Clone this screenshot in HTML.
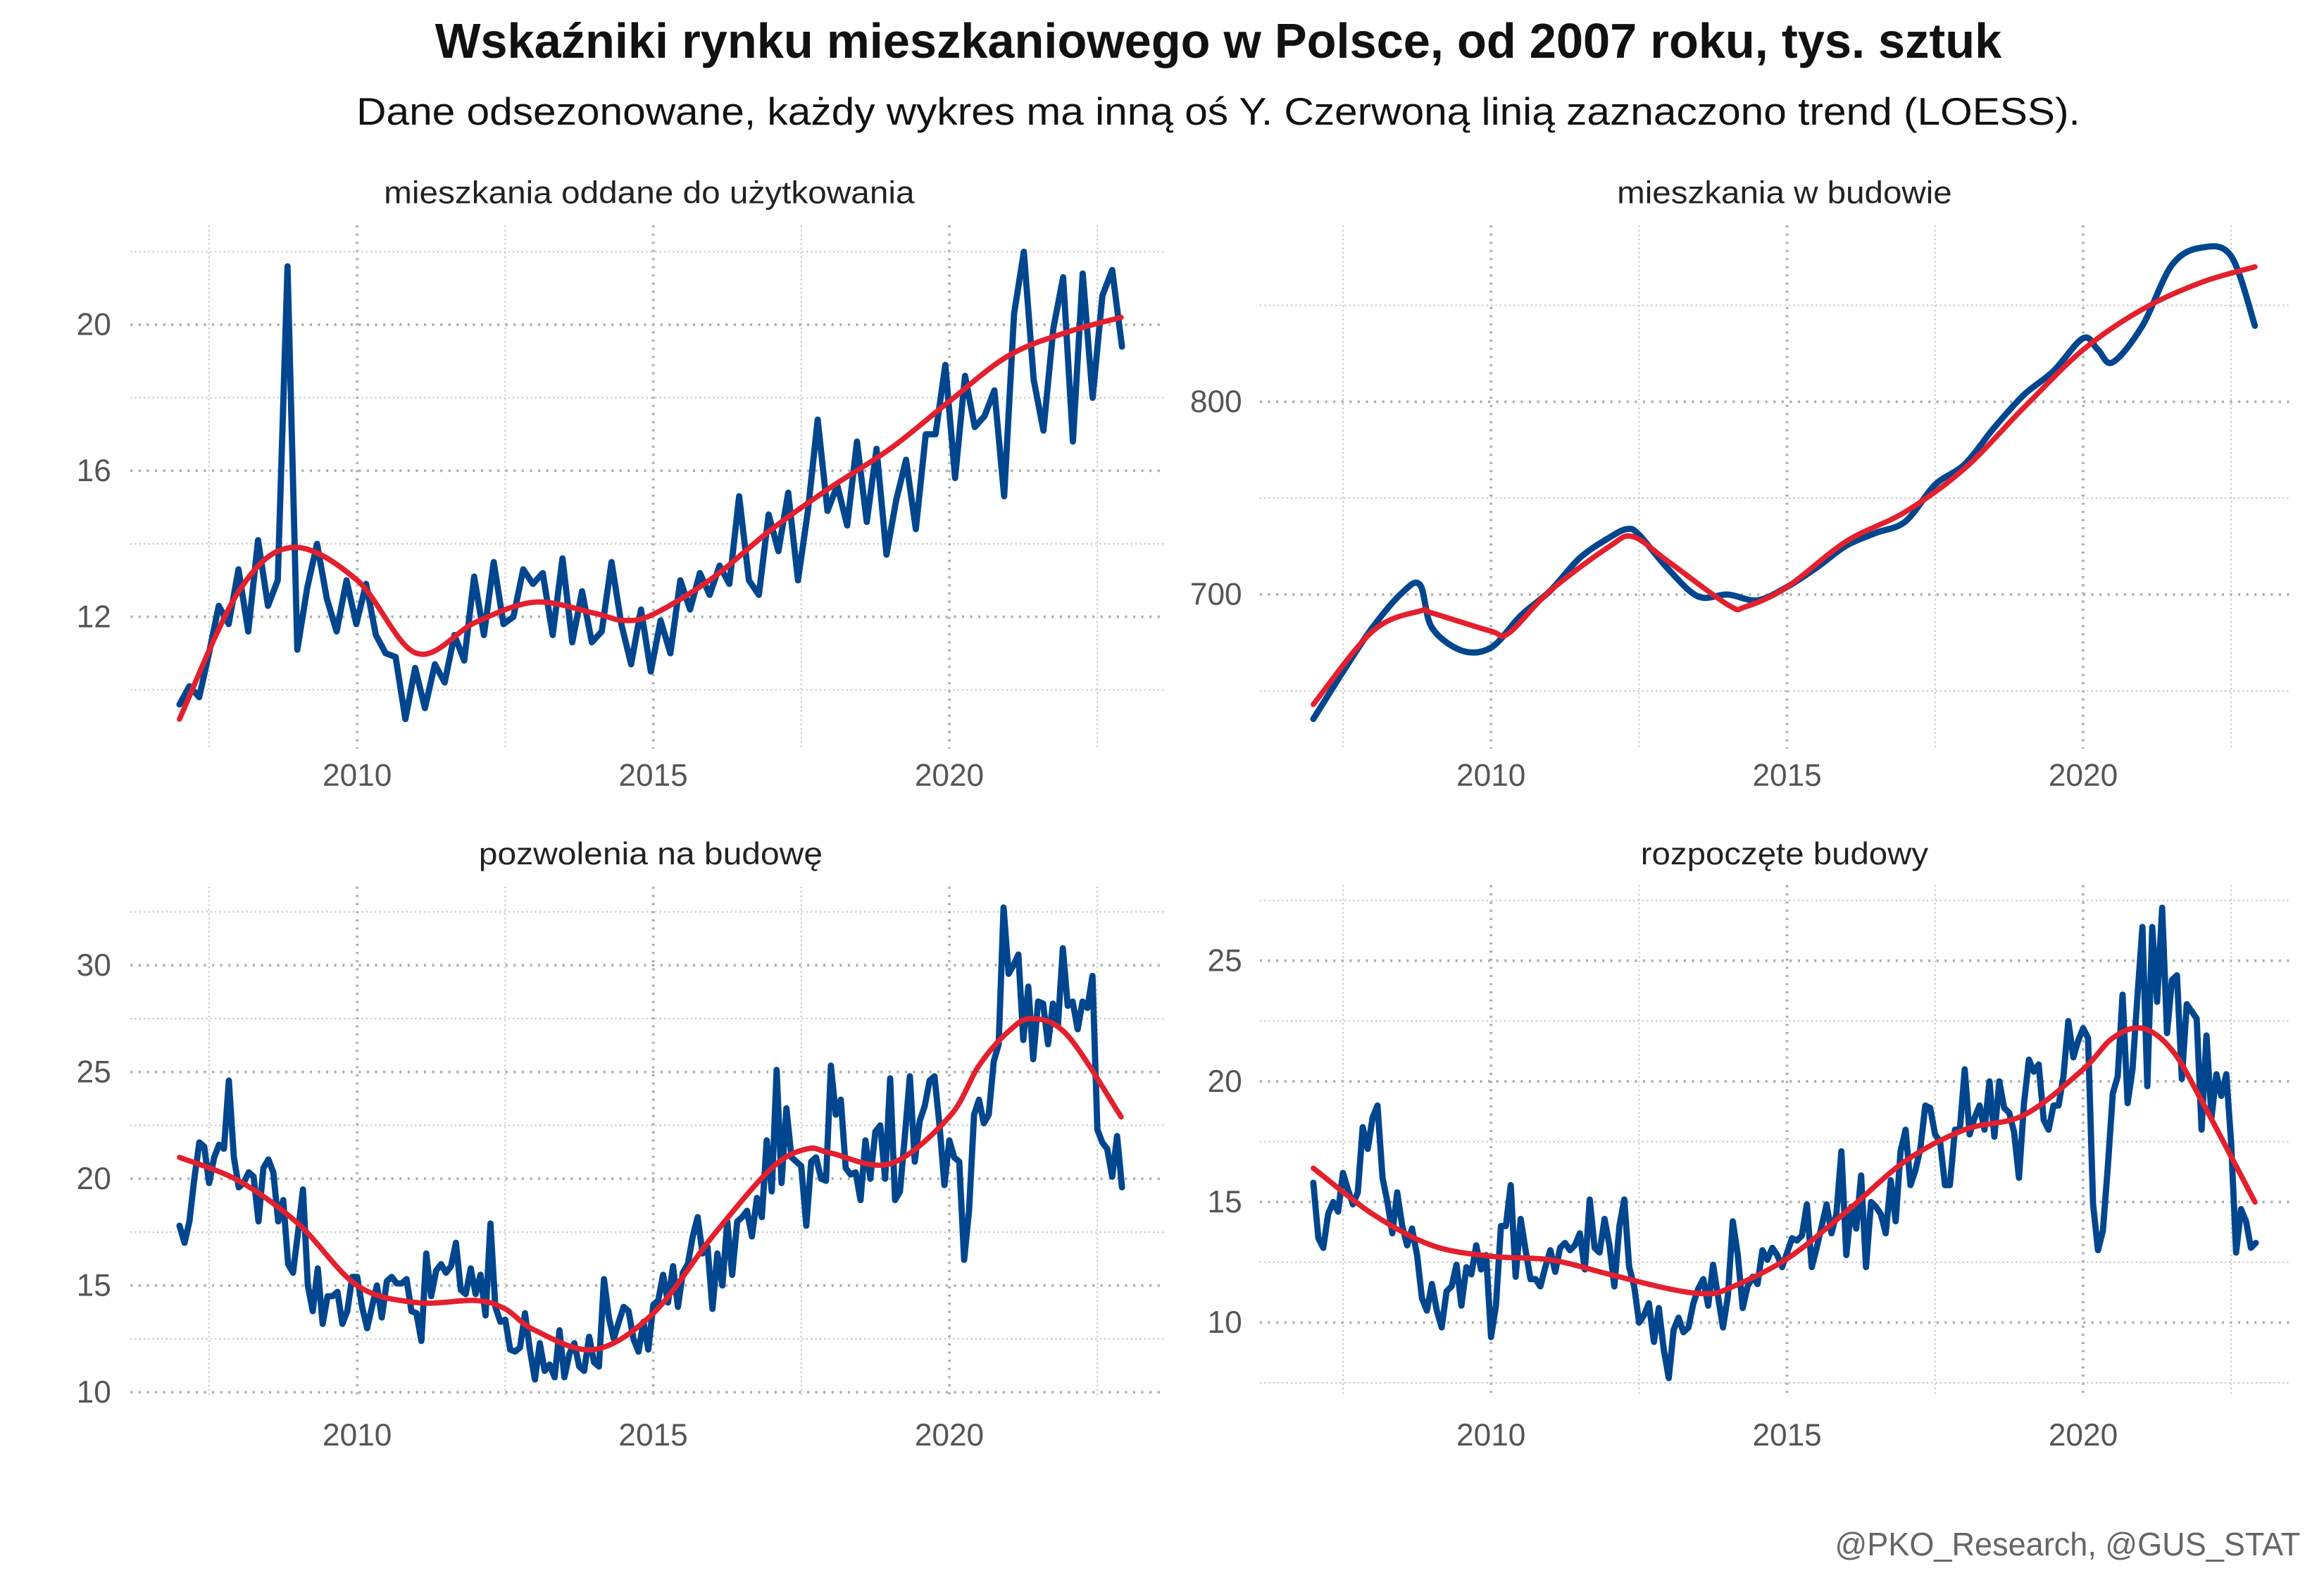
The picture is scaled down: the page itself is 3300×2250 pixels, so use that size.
<!DOCTYPE html>
<html><head><meta charset="utf-8">
<style>
html,body{margin:0;padding:0;background:#fff;}
svg{display:block;}
text{font-family:"Liberation Sans Narrow","Liberation Sans",sans-serif;}
</style></head>
<body>
<svg id="chart" width="3300" height="2250" viewBox="0 0 1568 1069" preserveAspectRatio="none" xmlns="http://www.w3.org/2000/svg">
<rect x="0" y="0" width="1568" height="1069" fill="#fff"/>
<text x="822" y="39" text-anchor="middle" font-size="33" font-weight="bold" fill="#111" textLength="1057" lengthAdjust="spacingAndGlyphs">Wskaźniki rynku mieszkaniowego w Polsce, od 2007 roku, tys. sztuk</text>
<text x="822" y="84" text-anchor="middle" font-size="26" fill="#111" textLength="1163" lengthAdjust="spacingAndGlyphs">Dane odsezonowane, każdy wykres ma inną oś Y. Czerwoną linią zaznaczono trend (LOESS).</text>
<text x="1552" y="1049" text-anchor="end" font-size="22" fill="#666" textLength="314" lengthAdjust="spacingAndGlyphs">@PKO_Research,  @GUS_STAT</text>
<g id="panels"></g>
</svg>
<script>
// ---- data ----
const s1Values=[9.6,10.1,9.8,11.0,12.3,11.8,13.3,11.6,14.1,12.3,13.0,21.6,11.1,12.8,14.0,12.5,11.6,13.0,11.8,12.9,11.5,11.0,10.9,9.2,10.6,9.5,10.7,10.2,11.5,10.8,13.1,11.5,13.5,11.8,12.0,13.3,12.9,13.2,11.5,13.6,11.3,12.7,11.3,11.6,13.5,11.8,10.7,12.2,10.5,11.9,11.0,13.0,12.2,13.2,12.6,13.4,12.9,15.3,13.0,12.6,14.8,13.8,15.4,13.0,14.9,17.4,14.9,15.6,14.5,16.8,14.6,16.6,13.7,15.2,16.3,14.4,17.0,17.0,18.9,15.8,18.6,17.2,17.5,18.2,15.3,20.3,22.0,18.5,17.1,19.9,21.3,16.8,21.4,18.0,20.8,21.5,19.4];
const s1TrendYears=[2007,2008,2008.9,2010,2011,2012,2013,2014,2014.5,2015,2016,2017,2018,2019,2020,2021,2022,2022.9];
const s1Trend=[9.2,12.7,13.9,13.0,11.0,11.85,12.4,12.1,11.9,12.07,13.06,14.4,15.55,16.6,17.9,19.15,19.8,20.2];

const s2Years=[2007,2007.5,2008,2008.5,2008.8,2009,2009.5,2010,2010.5,2011,2011.5,2012,2012.3,2012.5,2013,2013.5,2014,2014.5,2015,2015.5,2016,2016.5,2017,2017.5,2018,2018.5,2019,2019.5,2020,2020.25,2020.5,2021,2021.5,2022,2022.5,2022.9];
const s2Values=[635.5,660,683,701,705,683,671,672.5,689,702,719,729.6,734,731,713,699,700,697,704,714,725.4,732,738,757,767.6,786.7,803.6,816,833,827,820.5,839.5,871,880,875.5,839.5];
const s2TrendYears=[2007,2008,2008.8,2009,2010,2010.3,2011,2012,2012.4,2013,2014,2014.3,2015,2016,2017,2018,2019,2020,2021,2022,2022.9];
const s2Trend=[643,681,691.5,690.5,681,680,702,725,730,717,694.7,693.7,704,727.6,743,765.5,797,827,848,862,870];

const s3Values=[17.8,17.0,18.0,20.0,21.7,21.5,19.8,21.0,21.6,21.4,24.6,21.0,19.6,19.8,20.3,20.1,18.0,20.5,20.9,20.3,18.0,19.0,16.0,15.6,17.5,19.5,15.0,13.8,15.8,13.2,14.5,14.5,14.7,13.2,13.8,15.4,
15.4,14.0,13.0,14.0,15.0,13.5,15.2,15.4,15.1,15.1,15.3,13.8,13.7,12.4,16.5,14.5,15.7,16.0,15.6,15.9,17.0,14.8,14.6,15.8,14.6,15.5,13.6,17.9,14.0,13.3,13.4,12.0,11.9,12.1,13.7,12.0,
10.6,12.3,11.0,11.3,10.7,12.9,10.7,11.8,12.3,11.2,11.0,12.6,11.4,11.2,15.3,13.5,12.5,13.3,14.0,13.8,12.5,11.9,13.3,12.0,14.1,14.3,15.5,14.2,15.9,14.0,15.6,16.0,17.3,18.2,16.5,16.8,
13.9,16.5,15.0,18.0,15.5,18.0,18.2,18.5,17.3,19.1,18.2,21.8,19.4,25.1,19.8,23.3,21.0,20.8,20.6,17.8,20.8,21.0,20.0,19.9,25.3,23.0,23.7,20.5,20.2,20.3,19.0,21.8,20.0,22.2,22.5,20.0,
24.7,19.0,19.4,22.0,24.8,20.8,22.7,23.4,24.6,24.8,22.5,19.7,21.8,21.0,20.8,16.2,18.5,23.0,23.7,22.6,23.0,25.5,26.3,32.7,29.6,30.0,30.5,26.5,29.0,25.6,28.3,28.2,26.3,28.2,27.2,30.8,
28.1,28.3,27.0,28.3,28.0,29.5,22.3,21.7,21.4,20.1,22.0,19.6];
const s3TrendYears=[2007,2008,2009,2010,2011,2012,2012.5,2013,2014,2015,2016,2017,2017.6,2018,2019,2020,2020.5,2021,2021.4,2022,2022.9];
const s3Trend=[21.0,19.9,17.9,15.0,14.2,14.3,13.9,12.9,12.0,13.7,17.3,20.5,21.4,21.2,20.7,22.9,25.3,26.9,27.5,26.7,22.9];

const s4Values=[15.8,13.5,13.1,14.5,15.0,14.6,16.2,15.5,14.9,15.4,18.1,17.2,18.5,19.0,16.0,15.0,13.7,15.4,14.0,13.2,13.9,12.8,11.0,10.5,11.6,10.5,9.8,11.3,11.5,12.4,10.7,12.3,12.0,13.2,12.2,12.8,
9.4,10.7,14.0,14.0,15.7,11.9,14.3,13.0,11.8,11.8,11.5,12.3,13.0,12.1,13.1,13.3,13.0,13.2,13.7,12.2,15.1,13.1,12.9,14.3,13.2,11.5,14.0,15.1,12.3,11.5,10.0,10.3,10.8,9.2,10.6,8.9,
7.7,9.7,10.2,9.6,9.8,10.8,11.4,11.8,10.7,12.4,11.1,9.8,11.1,14.2,12.8,10.6,11.5,11.9,11.6,13.0,12.6,13.1,12.8,12.3,12.9,13.5,13.4,13.6,14.9,12.3,13.1,14.0,14.9,13.7,14.5,17.1,
12.8,14.8,13.9,16.1,12.3,15.0,14.8,14.5,13.7,15.9,14.2,17.1,18.0,15.7,16.3,17.2,19.0,18.9,17.8,17.5,15.7,15.7,18.0,18.0,20.5,17.8,18.5,19.0,18.0,20.0,17.7,20.0,18.9,18.7,17.9,16.0,
19.1,20.9,20.4,20.7,18.4,18.0,19.0,19.0,20.2,22.5,21.0,21.7,22.2,21.8,14.9,13.0,13.8,16.5,19.5,20.2,23.6,19.1,20.5,23.5,26.4,19.8,26.4,23.3,27.2,22.0,24.2,24.4,20.1,23.2,22.9,22.6,
18.0,21.9,18.5,20.3,19.4,20.3,17.4,12.9,14.7,14.2,13.1,13.3];
const s4TrendYears=[2007,2008,2009,2010,2011,2012,2013,2013.6,2014,2015,2016,2017,2018,2019,2020,2020.5,2021,2021.5,2022,2022.9];
const s4Trend=[16.4,14.5,13.2,12.75,12.6,12.0,11.4,11.2,11.4,12.65,14.6,16.7,18.0,18.6,20.5,21.8,22.2,21.3,19.2,15.0];

const xTickLabels=["2010","2015","2020"];
const xTickYears=[2010,2015,2020];
const xMinorYears=[2007.5,2012.5,2017.5,2022.5];
const p1Ticks=[12,16,20], p1Minor=[10,14,18,22];
const p2Ticks=[700,800], p2Minor=[650,750,850];
const p3Ticks=[10,15,20,25,30], p3Minor=[12.5,17.5,22.5,27.5,32.5];
const p4Ticks=[10,15,20,25], p4Minor=[7.5,12.5,17.5,22.5,27.5];

// ---- drawing ----
const NS="http://www.w3.org/2000/svg";
const root=document.getElementById('panels');
function mk(tag,attrs,parent){const e=document.createElementNS(NS,tag);for(const k in attrs)e.setAttribute(k,attrs[k]);(parent||root).appendChild(e);return e;}
function monthly(vals){const n=vals.length;return vals.map((v,i)=>2007+i*(15.917/(n-1)));}
function smoothPath(tp){
  let d='M'+tp[0][0].toFixed(1)+','+tp[0][1].toFixed(1);
  for(let i=0;i<tp.length-1;i++){
    const a=tp[Math.max(0,i-1)],b=tp[i],c=tp[i+1],e=tp[Math.min(tp.length-1,i+2)];
    const c1=[b[0]+(c[0]-a[0])/6,b[1]+(c[1]-a[1])/6],c2=[c[0]-(e[0]-b[0])/6,c[1]-(e[1]-b[1])/6];
    d+=' C'+c1[0].toFixed(1)+','+c1[1].toFixed(1)+' '+c2[0].toFixed(1)+','+c2[1].toFixed(1)+' '+c[0].toFixed(1)+','+c[1].toFixed(1);
  }
  return d;
}

const panels=[
 {name:'completed',title:'mieszkania oddane do użytkowania',tx:438,ty:137,x0:88,x1:785,y0:152,y1:505,xa:241,ya:219,va:20,vb:12,yb:416,ticks:p1Ticks,minor:p1Minor,lx:75,years:monthly(s1Values),vals:s1Values,ty2:s1TrendYears,tv:s1Trend,xl:522,smooth:false},
 {name:'under-construction',title:'mieszkania w budowie',tx:1204,ty:137,x0:850,x1:1545,y0:152,y1:505,xa:1006,ya:271,va:800,vb:700,yb:401,ticks:p2Ticks,minor:p2Minor,lx:838,years:s2Years,vals:s2Values,ty2:s2TrendYears,tv:s2Trend,xl:522,smooth:true},
 {name:'permits',title:'pozwolenia na budowę',tx:439,ty:583,x0:88,x1:785,y0:598,y1:942,xa:241,ya:651,va:30,vb:10,yb:939,ticks:p3Ticks,minor:p3Minor,lx:75,years:monthly(s3Values),vals:s3Values,ty2:s3TrendYears,tv:s3Trend,xl:967,smooth:false},
 {name:'starts',title:'rozpoczęte budowy',tx:1204,ty:583,x0:850,x1:1545,y0:597,y1:940,xa:1006,ya:648,va:25,vb:10,yb:892,ticks:p4Ticks,minor:p4Minor,lx:838,years:monthly(s4Values),vals:s4Values,ty2:s4TrendYears,tv:s4Trend,xl:967,smooth:false}
];
const titleLen={'completed':358,'under-construction':226,'permits':232,'starts':194};

panels.forEach(p=>{
  const g=mk('g',{});
  
  
  const X=y=>p.xa+(y-2010)*39.95;
  const Y=v=>p.ya+(p.va-v)*(p.yb-p.ya)/(p.va-p.vb);
  const t=mk('text',{x:p.tx,y:p.ty,'text-anchor':'middle','font-size':21,fill:'#222',textLength:titleLen[p.name],lengthAdjust:'spacingAndGlyphs'},g);
  t.textContent=p.title;
  
  
  p.minor.forEach(v=>{const l=mk('line',{x1:p.x0,x2:p.x1,y1:Y(v),y2:Y(v),stroke:'#c4c4c4','stroke-width':1,'stroke-dasharray':'1 2'},g);
    
    });
  xMinorYears.forEach(yr=>{const l=mk('line',{x1:X(yr),x2:X(yr),y1:p.y0,y2:p.y1,stroke:'#c4c4c4','stroke-width':1,'stroke-dasharray':'1 2'},g);
    
    });
  p.ticks.forEach(v=>{const l=mk('line',{x1:p.x0,x2:p.x1,y1:Y(v),y2:Y(v),stroke:'#b0b0b0','stroke-width':1.8,'stroke-dasharray':'1.5 4'},g);
    
    
    const tl=mk('text',{x:p.lx,y:Y(v)+7,'text-anchor':'end','font-size':21,fill:'#555'},g);
    tl.textContent=String(v);
    
    });
  xTickYears.forEach((yr,i)=>{const l=mk('line',{x1:X(yr),x2:X(yr),y1:p.y0,y2:p.y1,stroke:'#b0b0b0','stroke-width':1.8,'stroke-dasharray':'1.5 4'},g);
    
    
    const tl=mk('text',{x:X(yr),y:p.xl+8,'text-anchor':'middle','font-size':21,fill:'#555'},g);
    tl.textContent=xTickLabels[i];
    
    });
  let line;
  if(p.smooth){
    const sp=p.vals.map((v,i)=>[X(p.years[i]),Y(v)]);
    line=mk('path',{d:smoothPath(sp),fill:'none',stroke:'#00468E','stroke-width':4.2,'stroke-linejoin':'round','stroke-linecap':'round'},g);
  } else {
    const pts=p.vals.map((v,i)=>X(p.years[i]).toFixed(1)+','+Y(v).toFixed(1)).join(' ');
    line=mk('polyline',{points:pts,fill:'none',stroke:'#00468E','stroke-width':4.2,'stroke-linejoin':'round','stroke-linecap':'round'},g);
  }
  
  
  const tp=p.tv.map((v,i)=>[X(p.ty2[i]),Y(v)]);
  const tr=mk('path',{d:smoothPath(tp),fill:'none',stroke:'#E3202E','stroke-width':3.6,'stroke-linecap':'round'},g);
  
  
});
</script>
</body></html>
